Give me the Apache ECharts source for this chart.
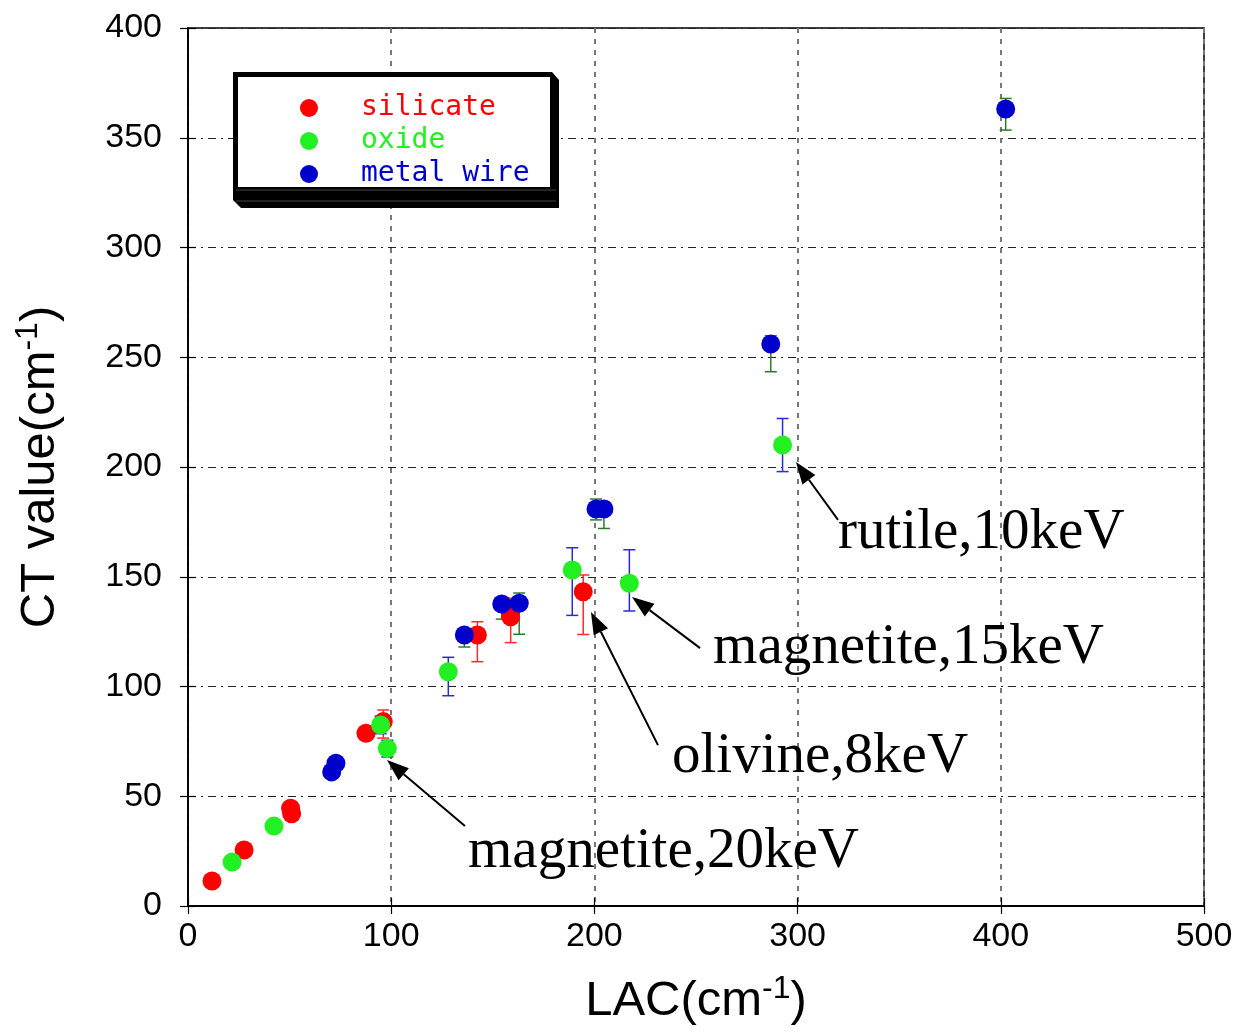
<!DOCTYPE html>
<html><head><meta charset="utf-8">
<script src="https://cdn.jsdelivr.net/npm/echarts@6/dist/echarts.min.js"></script>
<style>html,body{margin:0;padding:0;background:#fff}#c{width:1247px;height:1032px}</style>
</head><body><div id="c"></div>
<script>
// ---------- data ----------
const xTicks = [0, 100, 200, 300, 400, 500];
const yTicks = [0, 50, 100, 150, 200, 250, 300, 350, 400];

const silicateX    = [11.8, 27.6, 50.5, 51.0, 87.6, 96.1, 142.4, 158.8, 194.5];
const silicateY    = [11.4, 25.5, 44.5, 42.0, 78.7, 84.0, 123.5, 131.8, 143.2];
const silicateLow  = [10.5, 24.5, 43.0, 40.5, 76.0, 76.5, 111.3, 120.0, 123.7];
const silicateHigh = [12.3, 26.5, 46.0, 43.5, 81.5, 89.3, 129.5, 140.2, 150.8];

const oxideX    = [21.7, 42.3, 94.8, 98.1, 128.1, 189.1, 217.2, 292.6];
const oxideY    = [20.0, 36.4, 82.5, 71.8, 106.7, 153.1, 147.0, 210.0];
const oxideLow  = [19.0, 35.0, 78.5, 67.9, 95.8, 132.4, 134.4, 197.9];
const oxideHigh = [21.0, 37.5, 86.5, 75.5, 113.3, 163.2, 162.3, 222.1];

const metalX    = [70.7, 72.8, 136.0, 154.4, 163.0, 200.8, 204.7, 286.8, 402.4];
const metalY    = [61.1, 65.0, 123.5, 137.6, 137.9, 180.9, 180.9, 256.0, 363.1];
const metalLow  = [60.0, 64.0, 118.0, 130.7, 123.8, 175.9, 172.0, 243.4, 353.5];
const metalHigh = [62.0, 66.0, 125.0, 139.0, 142.6, 185.4, 184.0, 259.8, 367.9];

const seriesNames = ['silicate', 'oxide', 'metal wire'];

// annotations: label, text anchor (data), arrow tail (data), arrow head (data)
const annoLabels = ['rutile,10keV', 'magnetite,15keV', 'olivine,8keV', 'magnetite,20keV'];
const annoText   = [[319.9, 169.9], [258.4, 117.5], [238.2, 67.9], [137.8, 24.6]];
const annoTail   = [[319.9, 175.9], [252.0, 117.5], [231.3, 73.3], [136.3, 36.4]];
const annoHead   = [[299.2, 202.3], [218.5, 140.8], [198.3, 133.9], [97.9, 66.5]];

// ---------- chart ----------
const colors = ['#ff0000', '#22f022', '#0000cc'];
const errColors = ['#ff2a2a', '#2a2ad8', '#2d7a2d'];

function pts(xs, ys) { return xs.map((x, i) => [x, ys[i]]); }
function errs(xs, lo, hi) { return xs.map((x, i) => [x, lo[i], hi[i]]); }

function errSeries(name, data, color) {
  return {
    type: 'custom', name: name, z: 1, silent: true,
    data: data,
    encode: { x: 0, y: [1, 2] },
    renderItem: function (params, api) {
      const x = api.value(0);
      const lo = api.coord([x, api.value(1)]);
      const hi = api.coord([x, api.value(2)]);
      const w = 6;
      const st = { stroke: color, lineWidth: 1.5 };
      return {
        type: 'group',
        children: [
          { type: 'line', shape: { x1: lo[0], y1: lo[1], x2: hi[0], y2: hi[1] }, style: st },
          { type: 'line', shape: { x1: lo[0] - w, y1: lo[1], x2: lo[0] + w, y2: lo[1] }, style: st },
          { type: 'line', shape: { x1: hi[0] - w, y1: hi[1], x2: hi[0] + w, y2: hi[1] }, style: st }
        ]
      };
    }
  };
}
function scat(name, data, color) {
  return { type: 'scatter', name: name, z: 3, data: data, symbol: 'circle', symbolSize: 19,
    itemStyle: { color: color, opacity: 1 }, emphasis: { disabled: true } };
}

const chart = echarts.init(document.getElementById('c'), null, { renderer: 'canvas' });
const tickFont = { fontFamily: 'Liberation Sans', fontSize: 34, color: '#000' };
const gridL = 188, gridT = 28, gridR = 43, gridB = 126;
const titleStyle = { fontFamily: 'Liberation Sans', fontSize: 49, color: '#000',
  rich: { sup: { fontFamily: 'Liberation Sans', fontSize: 32, color: '#000', padding: [0, 0, 24, 0] } } };

const option = {
  animation: false,
  backgroundColor: '#fff',
  grid: { left: gridL, top: gridT, right: gridR, bottom: gridB, containLabel: false, outerBoundsMode: 'none',
    show: true, borderColor: '#000', borderWidth: 1.5, backgroundColor: 'transparent' },
  legend: {
    left: 295, top: 89, orient: 'vertical', icon: 'circle', itemWidth: 18, itemHeight: 18, itemGap: 5,
    data: seriesNames.map((n, i) => ({ name: n, textStyle: { color: colors[i] } })),
    textStyle: { fontFamily: 'DejaVu Sans Mono', fontSize: 28, padding: [0, 0, 0, 38] },
    selectedMode: false, z: 10
  },
  xAxis: [{
    type: 'value', min: 0, max: 500, interval: 100,
    axisLine: { show: true, lineStyle: { color: '#000', width: 1.5 } },
    axisTick: { show: true, inside: true, length: 8, lineStyle: { color: '#000', width: 1.2 } },
    axisLabel: Object.assign({ margin: 14, formatter: v => xTicks.includes(v) ? String(v) : '' }, tickFont),
    splitLine: { show: true, lineStyle: { color: '#777', width: 2, type: [5, 6] } },
    name: 'LAC(cm{sup|-1})', nameLocation: 'middle', nameGap: 67,
    nameTextStyle: titleStyle
  }, {
    type: 'value', position: 'top', min: 0, max: 500, interval: 100,
    axisLine: { show: true, lineStyle: { color: '#000', width: 1.5 } },
    axisTick: { show: true, inside: true, length: 8, lineStyle: { color: '#000', width: 1.2 } },
    axisLabel: { show: false }, splitLine: { show: false }
  }],
  yAxis: [{
    type: 'value', min: 0, max: 400, interval: 50,
    axisLine: { show: true, lineStyle: { color: '#000', width: 1.5 } },
    axisTick: { show: true, inside: true, length: 8, lineStyle: { color: '#000', width: 1.2 } },
    axisLabel: Object.assign({ margin: 26, formatter: v => yTicks.includes(v) ? String(v) : '' }, tickFont),
    splitLine: { show: true, lineStyle: { color: '#222', width: 1.2, type: [8, 5, 2, 5] } },
    name: 'CT value(cm{sup|-1})', nameLocation: 'middle', nameGap: 120, nameRotate: 90,
    nameTextStyle: titleStyle
  }, {
    type: 'value', position: 'right', min: 0, max: 400, interval: 50,
    axisLine: { show: true, lineStyle: { color: '#000', width: 1.5 } },
    axisTick: { show: true, inside: true, length: 8, lineStyle: { color: '#000', width: 1.2 } },
    axisLabel: { show: false }, splitLine: { show: false }
  }],
  series: [
    errSeries('silicate-err', errs(silicateX, silicateLow, silicateHigh), errColors[0]),
    errSeries('oxide-err', errs(oxideX, oxideLow, oxideHigh), errColors[1]),
    errSeries('metal-err', errs(metalX, metalLow, metalHigh), errColors[2]),
    scat('silicate', pts(silicateX, silicateY), colors[0]),
    scat('oxide', pts(oxideX, oxideY), colors[1]),
    scat('metal wire', pts(metalX, metalY), colors[2])
  ]
};
chart.setOption(option);

// legend frame (3D box) and annotations
const g = [];
g.push({ type: 'polygon', z: 5, shape: { points: [[233, 72], [552, 72], [559, 80], [559, 208], [241, 208], [233, 200]] }, style: { fill: '#000' } });
g.push({ type: 'rect', z: 6, shape: { x: 238, y: 77, width: 312, height: 110 }, style: { fill: '#fff' } });
g.push({ type: 'line', z: 6, shape: { x1: 236, y1: 190, x2: 556, y2: 190 }, style: { stroke: '#444', lineWidth: 1 } });
g.push({ type: 'line', z: 6, shape: { x1: 236, y1: 201, x2: 556, y2: 201 }, style: { stroke: '#444', lineWidth: 1 } });

annoLabels.forEach((lab, i) => {
  const t = chart.convertToPixel({ gridIndex: 0 }, annoText[i]);
  const a = chart.convertToPixel({ gridIndex: 0 }, annoTail[i]);
  const h = chart.convertToPixel({ gridIndex: 0 }, annoHead[i]);
  const dx = h[0] - a[0], dy = h[1] - a[1];
  const L = Math.sqrt(dx * dx + dy * dy), ux = dx / L, uy = dy / L;
  const hl = 22, hw = 8;
  const bx = h[0] - ux * hl, by = h[1] - uy * hl;
  g.push({ type: 'line', z: 7, shape: { x1: a[0], y1: a[1], x2: bx, y2: by }, style: { stroke: '#000', lineWidth: 2 } });
  g.push({ type: 'polygon', z: 7, shape: { points: [[h[0], h[1]], [bx - uy * hw, by + ux * hw], [bx + uy * hw, by - ux * hw]] }, style: { fill: '#000' } });
  g.push({ type: 'text', z: 7, x: t[0], y: t[1], style: { text: lab, fill: '#000', font: '57px "Liberation Serif"', textAlign: 'left', textVerticalAlign: 'middle' } });
});
chart.setOption({ graphic: g });
</script>
</body></html>
